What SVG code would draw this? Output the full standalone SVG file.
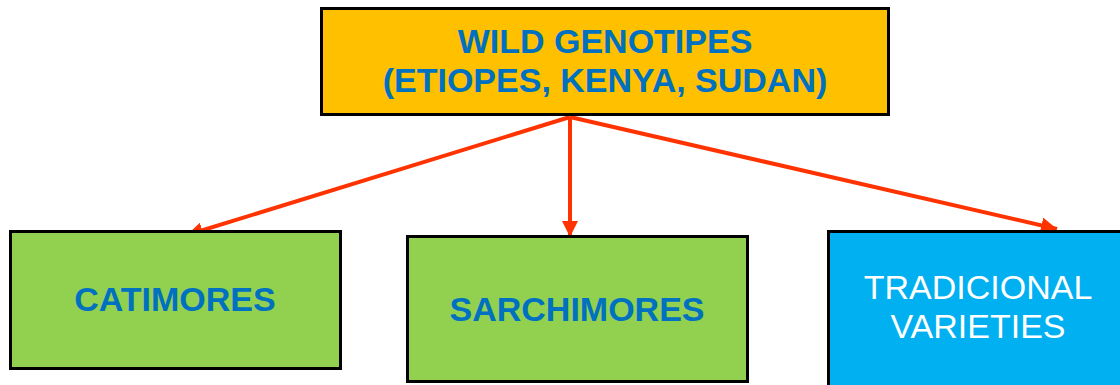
<svg xmlns="http://www.w3.org/2000/svg" width="1120" height="385" viewBox="0 0 1120 385">
<style>
.box{stroke:#000;stroke-width:3}
.t{font-family:"Liberation Sans",Arial,sans-serif;font-size:34px;text-anchor:middle}
.b{font-weight:bold;fill:#0070C0}
.w{fill:#fff}
.c{stroke:#FF3300;stroke-width:4;fill:none}
</style>
<defs>
<marker id="ah" markerUnits="userSpaceOnUse" markerWidth="18" markerHeight="16" refX="16" refY="8" orient="auto">
<path d="M0,0 L16,8 L0,16 Z" fill="#FF3300"/>
</marker>
</defs>
<rect width="1120" height="385" fill="#fff"/>
<g id="connectors">
<line class="c" x1="570" y1="117" x2="187" y2="235" marker-end="url(#ah)"/>
<line class="c" x1="570" y1="117" x2="570" y2="237" marker-end="url(#ah)"/>
<line class="c" x1="570" y1="117" x2="1057" y2="229" marker-end="url(#ah)"/>
</g>
<g id="wild">
<rect class="box" x="321.5" y="8.5" width="567" height="106" fill="#FFC000"/>
<text class="t b" x="605" y="53">WILD GENOTIPES</text>
<text class="t b" x="605" y="92">(ETIOPES, KENYA, SUDAN)</text>
</g>
<g id="catimores">
<rect class="box" x="10.5" y="231.5" width="330" height="137" fill="#92D050"/>
<text class="t b" x="175" y="311">CATIMORES</text>
</g>
<g id="sarchimores">
<rect class="box" x="407.5" y="236.5" width="340" height="145" fill="#92D050"/>
<text class="t b" x="577" y="321">SARCHIMORES</text>
</g>
<g id="traditional">
<rect class="box" x="828.5" y="231.5" width="310" height="170" fill="#00B0F0"/>
<text class="t w" x="978" y="299">TRADICIONAL</text>
<text class="t w" x="978" y="338">VARIETIES</text>
</g>
</svg>
